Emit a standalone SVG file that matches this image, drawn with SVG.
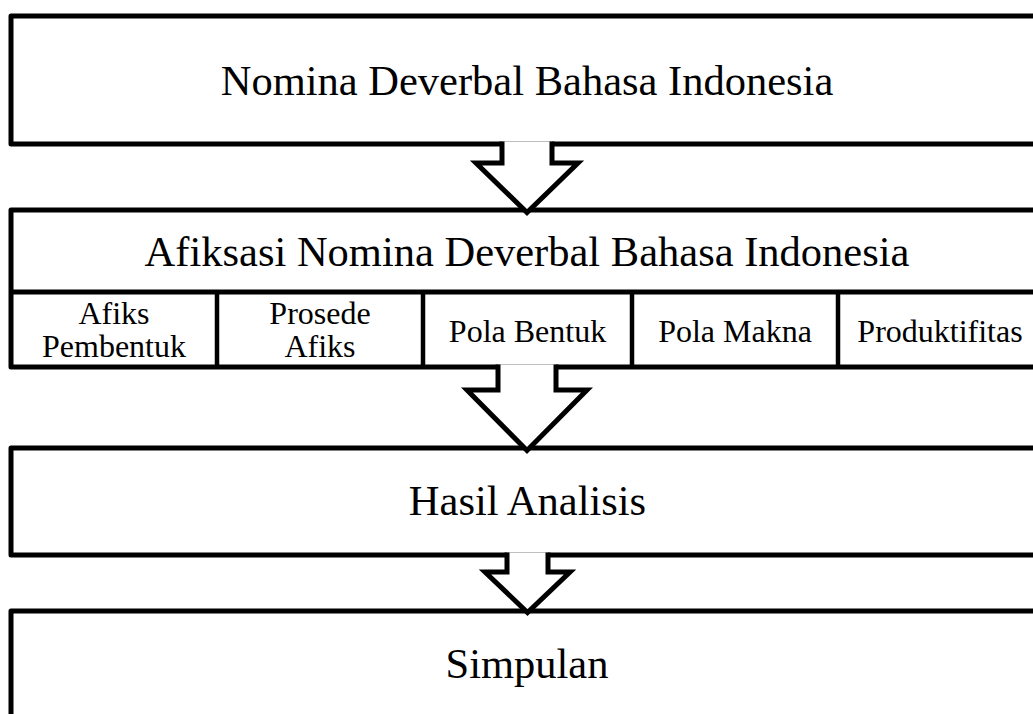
<svg xmlns="http://www.w3.org/2000/svg" width="1033" height="714" viewBox="0 0 1033 714">
<style>
.box{fill:#fff;stroke:#000;stroke-width:5;stroke-linejoin:round}
.ln{stroke:#000;stroke-width:5;fill:none}
.dv{stroke:#000;stroke-width:4.5;fill:none}
.arr{fill:#fff;stroke:#000;stroke-width:5;stroke-linejoin:miter;stroke-linecap:butt}
.t{font-family:"Liberation Serif","Times New Roman",serif;font-size:42.5px;fill:#000;text-anchor:middle}
.c{font-family:"Liberation Serif","Times New Roman",serif;font-size:32px;fill:#000;text-anchor:middle}
</style>
<rect width="1033" height="714" fill="#fff"/>
<g id="node-nomina">
<rect class="box" x="11" y="16" width="1040" height="128"/>
<text class="t" x="527" y="95">Nomina Deverbal Bahasa Indonesia</text>
</g>
<g id="node-afiksasi">
<rect class="box" x="11" y="210" width="1040" height="157"/>
<line class="ln" x1="11" y1="292" x2="1051" y2="292"/>
<text class="t" x="527" y="266">Afiksasi Nomina Deverbal Bahasa Indonesia</text>
<line class="dv" x1="217" y1="292" x2="217" y2="367"/>
<line class="dv" x1="423" y1="292" x2="423" y2="367"/>
<line class="dv" x1="632" y1="292" x2="632" y2="367"/>
<line class="dv" x1="838" y1="292" x2="838" y2="367"/>
</g>
<g id="cell-afiks-pembentuk"><text class="c" x="114" y="324">Afiks</text><text class="c" x="114" y="357">Pembentuk</text></g>
<g id="cell-prosede-afiks"><text class="c" x="320" y="324">Prosede</text><text class="c" x="320" y="357">Afiks</text></g>
<g id="cell-pola-bentuk"><text class="c" x="527.5" y="342">Pola Bentuk</text></g>
<g id="cell-pola-makna"><text class="c" x="735" y="342">Pola Makna</text></g>
<g id="cell-produktifitas"><text class="c" x="940" y="342">Produktifitas</text></g>
<g id="node-hasil">
<rect class="box" x="11" y="448" width="1040" height="107"/>
<text class="t" x="527.5" y="515">Hasil Analisis</text>
</g>
<g id="node-simpulan">
<rect class="box" x="11" y="611" width="1040" height="140"/>
<text class="t" x="527" y="678">Simpulan</text>
</g>
<g id="connectors">
<path class="arr" d="M502,141.5 V163 H476 L527,212.5 L578,163 H552 V141.5"/>
<path class="arr" d="M498,364.5 V390 H467 L527,450.5 L587,390 H556 V364.5"/>
<path class="arr" d="M507,552.5 V572 H485 L527.5,612.5 L570,572 H548 V552.5"/>
</g>
</svg>
